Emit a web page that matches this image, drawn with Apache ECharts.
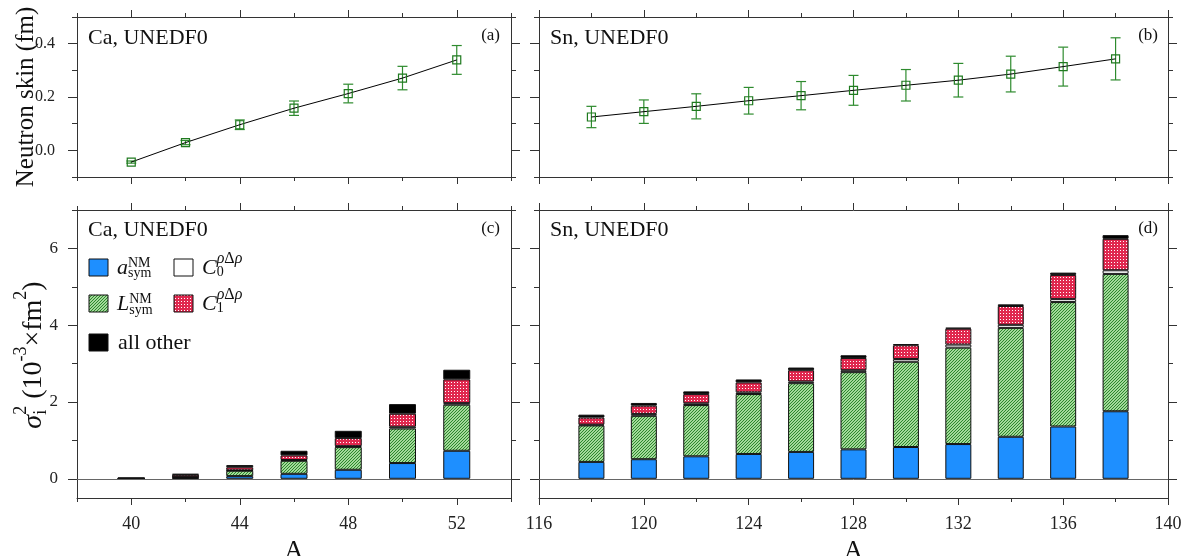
<!DOCTYPE html>
<html>
<head>
<meta charset="utf-8">
<script src="https://cdn.jsdelivr.net/npm/echarts@6/dist/echarts.min.js"></script>
<style>
  html, body { margin: 0; background: #fff; }
  #chart { width: 1182px; height: 556px; }
</style>
</head>
<body>
<div id="chart"></div>
<script>
// mass numbers
const caA = [40, 42, 44, 46, 48, 50, 52];
const snA = [118, 120, 122, 124, 126, 128, 130, 132, 134, 136, 138];

// neutron skin (fm) and its error
const caSkin = [-0.044, 0.029, 0.096, 0.158, 0.213, 0.271, 0.339];
const caSkinErr = [0.004, 0.008, 0.018, 0.027, 0.035, 0.044, 0.054];
const snSkin = [0.125, 0.145, 0.165, 0.186, 0.205, 0.225, 0.244, 0.263, 0.286, 0.314, 0.343];
const snSkinErr = [0.040, 0.044, 0.047, 0.050, 0.053, 0.056, 0.059, 0.063, 0.067, 0.073, 0.079];

// contributions to sigma^2 (10^-3 fm^2)
const caAsym = [0.004, 0.02, 0.07, 0.13, 0.235, 0.41, 0.73];
const caLsym = [0.004, 0.03, 0.14, 0.34, 0.59, 0.90, 1.20];
const caC0 = [0.001, 0.005, 0.01, 0.02, 0.025, 0.045, 0.04];
const caC1 = [0.006, 0.05, 0.08, 0.12, 0.21, 0.34, 0.62];
const caOther = [0.012, 0.025, 0.057, 0.12, 0.19, 0.25, 0.25];

const snAsym = [0.44, 0.51, 0.586, 0.647, 0.70, 0.767, 0.828, 0.905, 1.095, 1.362, 1.759];
const snLsym = [0.95, 1.13, 1.334, 1.56, 1.79, 2.01, 2.22, 2.51, 2.835, 3.24, 3.577];
const snC0 = [0.02, 0.05, 0.046, 0.043, 0.044, 0.05, 0.07, 0.08, 0.08, 0.077, 0.094];
const snC1 = [0.185, 0.215, 0.24, 0.26, 0.294, 0.32, 0.36, 0.415, 0.49, 0.63, 0.82];
const snOther = [0.075, 0.07, 0.07, 0.077, 0.069, 0.07, 0.03, 0.025, 0.043, 0.06, 0.095];

// ticks
const caXMajor = [40, 44, 48, 52];
const caXMinor = [38, 42, 46, 50, 54];
const snXMajor = [116, 120, 124, 128, 132, 136, 140];
const snXMinor = [118, 122, 126, 130, 134, 138];
const skinYMajor = [0, 0.2, 0.4];
const skinYMinor = [-0.1, 0.1, 0.3, 0.5];
const varYMajor = [0, 2, 4, 6];
const varYMinor = [1, 3, 5, 7];

const SERIF = '"Liberation Serif", "Times New Roman", serif';
const AXIS = '#333';

function makePattern(bg, fg, size, pts) {
  const c = document.createElement('canvas');
  c.width = c.height = size;
  const g = c.getContext('2d');
  g.fillStyle = bg;
  g.fillRect(0, 0, size, size);
  g.fillStyle = fg;
  pts.forEach(p => g.fillRect(p[0], p[1], 1, 1));
  return { image: c, repeat: 'repeat' };
}
const BLUE = '#1e8fff';
const GREEN = makePattern('#a3d99a', '#2c872c', 3, [[0, 2], [1, 1], [2, 0]]);
const RED = makePattern('#e0284f', '#ffffff', 3, [[1, 1]]);
const fills = [BLUE, GREEN, '#ffffff', RED, '#000000'];

// outerBoundsMode none: keep the grids exactly where they are put
const grid = [
  { left: 77, top: 17, width: 434, height: 160, outerBoundsMode: 'none' },
  { left: 539, top: 17, width: 629, height: 160, outerBoundsMode: 'none' },
  { left: 77, top: 210, width: 434, height: 288, outerBoundsMode: 'none' },
  { left: 539, top: 210, width: 629, height: 288, outerBoundsMode: 'none' }
];

const xAxis = [], yAxis = [];
function sideAxes(list, gridIndex, min, max, major, minor, sides, lens, label, extra) {
  const first = list.length;
  sides.forEach((pos, k) => {
    [major, minor].forEach((vals, m) => {
      const ax = {
        type: 'value', gridIndex, min, max, position: pos,
        axisLine: { show: m === 0, onZero: false, lineStyle: { color: AXIS, width: 1 } },
        axisTick: { show: true, inside: false, length: lens[m], customValues: vals, lineStyle: { color: AXIS } },
        axisLabel: { show: false },
        splitLine: { show: false }
      };
      if (k === 0 && m === 0) {
        if (label) ax.axisLabel = Object.assign({ show: true, customValues: vals, fontFamily: SERIF, fontSize: 17, color: '#222' }, label);
        if (extra) Object.assign(ax, extra);
      }
      list.push(ax);
    });
  });
  return first;
}
const nameStyle = { fontFamily: SERIF, fontSize: 26, color: '#111' };
const skinFmt = { margin: 22, fontSize: 16, formatter: v => v.toFixed(1) };

const gx0 = sideAxes(xAxis, 0, 38, 54, caXMajor, caXMinor, ['bottom', 'top'], [7, 4], null);
const gy0 = sideAxes(yAxis, 0, -0.1, 0.5, skinYMajor, skinYMinor, ['left', 'right'], [9, 5], skinFmt);
const gx1 = sideAxes(xAxis, 1, 116, 140, snXMajor, snXMinor, ['bottom', 'top'], [7, 4], null);
const gy1 = sideAxes(yAxis, 1, -0.1, 0.5, skinYMajor, skinYMinor, ['left', 'right'], [9, 5], null);
const aName = { name: 'A', nameLocation: 'middle', nameGap: 31, nameTextStyle: nameStyle };
const gx2 = sideAxes(xAxis, 2, 38, 54, caXMajor, caXMinor, ['bottom', 'top'], [7, 4], { margin: 17, fontSize: 18 }, aName);
const gy2 = sideAxes(yAxis, 2, -0.5, 7, varYMajor, varYMinor, ['left', 'right'], [9, 5], { margin: 19 });
const gx3 = sideAxes(xAxis, 3, 116, 140, snXMajor, snXMinor, ['bottom', 'top'], [7, 4], { margin: 17, fontSize: 18 }, aName);
const gy3 = sideAxes(yAxis, 3, -0.5, 7, varYMajor, varYMinor, ['left', 'right'], [9, 5], null);

function errRender(params, api) {
  const x = api.value(0);
  const lo = api.coord([x, api.value(1)]);
  const hi = api.coord([x, api.value(2)]);
  const st = { stroke: '#2e8b2e', lineWidth: 1.2 };
  return {
    type: 'group',
    children: [
      { type: 'line', shape: { x1: lo[0], y1: lo[1], x2: hi[0], y2: hi[1] }, style: st },
      { type: 'line', shape: { x1: lo[0] - 5, y1: lo[1], x2: lo[0] + 5, y2: lo[1] }, style: st },
      { type: 'line', shape: { x1: hi[0] - 5, y1: hi[1], x2: hi[0] + 5, y2: hi[1] }, style: st }
    ]
  };
}
function skinSeries(A, val, err, xi, yi) {
  return [
    {
      type: 'custom', xAxisIndex: xi, yAxisIndex: yi, renderItem: errRender, z: 2,
      data: A.map((a, i) => [a, val[i] - err[i], val[i] + err[i]])
    },
    {
      type: 'line', xAxisIndex: xi, yAxisIndex: yi, z: 3,
      data: A.map((a, i) => [a, val[i]]),
      symbol: 'rect', symbolSize: 8,
      itemStyle: { color: 'rgba(255,255,255,0)', borderColor: '#1f7a1f', borderWidth: 1.2 },
      lineStyle: { color: '#000', width: 1 }
    }
  ];
}
// value first, A second: makes the stack run on the y values (by index)
function stackBars(stack, A, values, xi, yi, w) {
  return values.map((v, k) => {
    const s = {
      type: 'bar', stack, xAxisIndex: xi, yAxisIndex: yi, barWidth: w,
      data: A.map((a, i) => [v[i], a]),
      encode: { x: 1, y: 0 },
      itemStyle: { color: fills[k], borderColor: '#111', borderWidth: 1 }
    };
    if (k === 0) {
      s.markLine = {
        silent: true, symbol: 'none', label: { show: false },
        lineStyle: { color: '#666', width: 1, type: 'solid' },
        data: [{ yAxis: 0 }]
      };
    }
    return s;
  });
}

// text helpers (math-like labels)
const mctx = document.createElement('canvas').getContext('2d');
function fontOf(p) { return (p.italic ? 'italic ' : '') + p.size + 'px ' + SERIF; }
function mathText(parts, x, y, opt) {
  opt = opt || {};
  let cx = 0, held = 0;
  const items = parts.map(p => {
    mctx.font = fontOf(p);
    const w = mctx.measureText(p.t).width;
    const it = { x: cx, p };
    if (p.hold) held = Math.max(held, w);
    else { cx += Math.max(w, held); held = 0; }
    return it;
  });
  const shift = opt.center ? -cx / 2 : 0;
  return {
    type: 'group', x, y, rotation: opt.rotation || 0,
    children: items.map(it => ({
      type: 'text', x: it.x + shift, y: -(it.p.rise || 0) - 0.34 * it.p.size,
      style: {
        text: it.p.t, fontSize: it.p.size, fontFamily: SERIF,
        fontStyle: it.p.italic ? 'italic' : 'normal',
        fill: '#111', align: 'left', verticalAlign: 'middle'
      }
    }))
  };
}
function label(t, x, base, size, align) {
  return {
    type: 'text', x, y: base - 0.34 * size,
    style: { text: t, fontSize: size, fontFamily: SERIF, fill: '#111', align: align || 'left', verticalAlign: 'middle' }
  };
}

const legendRows = [
  { fill: BLUE, x: 89, y: 259, parts: [{ t: 'a', size: 22, italic: true }, { t: 'NM', size: 14, rise: 8, hold: true }, { t: 'sym', size: 14, rise: -2 }] },
  { fill: '#ffffff', x: 174, y: 259, parts: [{ t: 'C', size: 22, italic: true }, { t: '0', size: 14, rise: -1, hold: true }, { t: 'ρ', size: 16, rise: 12, italic: true }, { t: 'Δ', size: 16, rise: 12 }, { t: 'ρ', size: 16, rise: 12, italic: true }] },
  { fill: GREEN, x: 89, y: 295, parts: [{ t: 'L', size: 22, italic: true }, { t: 'NM', size: 14, rise: 8, hold: true }, { t: 'sym', size: 14, rise: -3 }] },
  { fill: RED, x: 174, y: 295, parts: [{ t: 'C', size: 22, italic: true }, { t: '1', size: 14, rise: -1, hold: true }, { t: 'ρ', size: 16, rise: 12, italic: true }, { t: 'Δ', size: 16, rise: 12 }, { t: 'ρ', size: 16, rise: 12, italic: true }] },
  { fill: '#000000', x: 89, y: 334, parts: [{ t: 'all other', size: 22 }] }
];

const graphic = [
  label('Ca, UNEDF0', 88, 46, 22), label('(a)', 500, 41, 17, 'right'),
  label('Sn, UNEDF0', 550, 46, 22), label('(b)', 1158, 41, 17, 'right'),
  label('Ca, UNEDF0', 88, 238, 22), label('(c)', 500, 234, 17, 'right'),
  label('Sn, UNEDF0', 550, 238, 22), label('(d)', 1158, 234, 17, 'right'),
  mathText([{ t: 'Neutron skin (fm)', size: 25 }], 35, 97, { rotation: Math.PI / 2, center: true }),
  mathText([
    { t: 'σ', size: 28, italic: true }, { t: '2', size: 18, rise: 16, hold: true }, { t: 'i', size: 18, rise: -4 },
    { t: ' (10', size: 28 }, { t: '-3', size: 18, rise: 16 }, { t: '×fm', size: 28 }, { t: '2', size: 18, rise: 16 }, { t: ')', size: 28 }
  ], 43, 355, { rotation: Math.PI / 2, center: true })
];
legendRows.forEach(r => {
  graphic.push({ type: 'rect', shape: { x: r.x, y: r.y, width: 19, height: 17 }, style: { fill: r.fill, stroke: '#111', lineWidth: 1 } });
  graphic.push(mathText(r.parts, r.x + (r.parts.length === 1 ? 29 : 28), r.y + 17));
});

const chart = echarts.init(document.getElementById('chart'));
chart.setOption({
  animation: false,
  backgroundColor: '#fff',
  textStyle: { fontFamily: SERIF },
  grid,
  xAxis,
  yAxis,
  graphic,
  series: [].concat(
    skinSeries(caA, caSkin, caSkinErr, gx0, gy0),
    skinSeries(snA, snSkin, snSkinErr, gx1, gy1),
    stackBars('ca', caA, [caAsym, caLsym, caC0, caC1, caOther], gx2, gy2, 27),
    stackBars('sn', snA, [snAsym, snLsym, snC0, snC1, snOther], gx3, gy3, 26)
  )
});
</script>
</body>
</html>
